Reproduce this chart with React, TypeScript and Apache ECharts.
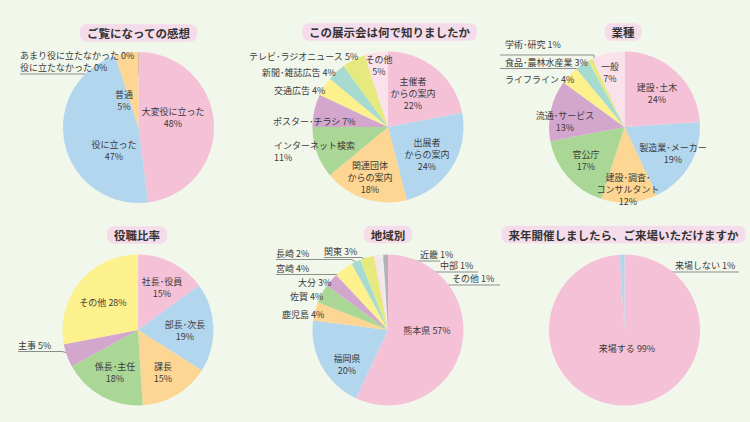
import React, { useEffect, useRef } from 'react';
import * as echarts from 'echarts';

const FONT = '"Noto Sans CJK JP", "Noto Sans", sans-serif';

const titles = [
  'ご覧になっての感想',
  'この展示会は何で知りましたか',
  '業種',
  '役職比率',
  '地域別',
  '来年開催しましたら、ご来場いただけますか',
];

const impressionNames = ['大変役に立った', '役に立った', '普通', 'あまり役に立たなかった', '役に立たなかった'];
const impressionValues = [48, 47, 5, 0, 0];

const sourceNames = ['主催者\nからの案内', '出展者\nからの案内', '関連団体\nからの案内', 'インターネット検索', 'ポスター･チラシ', '交通広告', '新聞･雑誌広告', 'テレビ･ラジオニュース', 'その他'];
const sourceValues = [22, 24, 18, 11, 7, 4, 4, 5, 5];

const industryNames = ['建設･土木', '製造業･メーカー', '建設･調査･\nコンサルタント', '官公庁', '流通･サービス', 'ライフライン', '食品･農林水産業', '学術･研究', '一般'];
const industryValues = [24, 19, 12, 17, 13, 4, 3, 1, 7];

const positionNames = ['社長･役員', '部長･次長', '課長', '係長･主任', '主事', 'その他'];
const positionValues = [15, 19, 15, 18, 5, 28];

const regionNames = ['熊本県', '福岡県', '鹿児島', '佐賀', '大分', '宮崎', '長崎', '関東', '近畿', '中部', 'その他'];
const regionValues = [57, 20, 4, 4, 3, 4, 2, 3, 1, 1, 1];

const nextYearNames = ['来場する', '来場しない'];
const nextYearValues = [99, 1];

// colours
const PINK = '#f5c1d7';
const BLUE = '#b3d6ef';
const PEACH = '#fcd692';
const GREEN = '#aad696';
const PURPLE = '#d3a6cd';
const YELLOW = '#fdf18e';
const TEAL = '#a8dbd0';
const LIME = '#e6ea7e';
const LPINK = '#fae1ea';
const LGRAY = '#ececec';
const GRAY = '#b3b3b3';

type L = { x: number; y: number; a?: string; sep: string; out?: boolean; line?: number[][] };

const layout1: L[] = [
  { x: 173, y: 117, sep: '\n' },
  { x: 114, y: 150, sep: '\n' },
  { x: 124, y: 100, sep: '\n' },
  { x: 20, y: 55, a: 'left', sep: ' ', out: true },
  { x: 20, y: 67, a: 'left', sep: ' ', out: true, line: [[138.5, 53], [138.5, 74], [20, 74]] },
];
const layout2: L[] = [
  { x: 413, y: 93, sep: '\n' },
  { x: 427, y: 154, sep: '\n' },
  { x: 370, y: 177, sep: '\n' },
  { x: 274, y: 151, a: 'left', sep: '\n', out: true },
  { x: 273, y: 121, a: 'left', sep: ' ', out: true },
  { x: 274, y: 90, a: 'left', sep: ' ', out: true },
  { x: 262, y: 72, a: 'left', sep: ' ', out: true },
  { x: 249, y: 56, a: 'left', sep: ' ', out: true },
  { x: 379, y: 65, sep: '\n' },
];
const layout3: L[] = [
  { x: 657, y: 93, sep: '\n' },
  { x: 673, y: 153, sep: '\n' },
  { x: 628, y: 189, sep: '\n' },
  { x: 586, y: 160, sep: '\n' },
  { x: 565, y: 121, sep: '\n' },
  { x: 505, y: 79, a: 'left', sep: ' ', out: true },
  { x: 505, y: 62, a: 'left', sep: ' ', out: true, line: [[589, 69], [580, 68.5], [500, 68.5]] },
  { x: 505, y: 44, a: 'left', sep: ' ', out: true, line: [[594, 66], [594, 55], [500, 55]] },
  { x: 610, y: 72, sep: '\n' },
];
const layout4: L[] = [
  { x: 162, y: 287, sep: '\n' },
  { x: 185, y: 330, sep: '\n' },
  { x: 163, y: 372, sep: '\n' },
  { x: 115, y: 372, sep: '\n' },
  { x: 18, y: 345, a: 'left', sep: ' ', out: true, line: [[68, 353], [62, 351.5], [18, 351.5]] },
  { x: 103, y: 302, sep: ' ' },
];
const layout5: L[] = [
  { x: 427, y: 330, sep: ' ' },
  { x: 347, y: 364, sep: '\n' },
  { x: 282, y: 314, a: 'left', sep: ' ', out: true },
  { x: 290, y: 296, a: 'left', sep: ' ', out: true },
  { x: 298, y: 282, a: 'left', sep: ' ', out: true },
  { x: 276, y: 268, a: 'left', sep: ' ', out: true, line: [[344, 271], [341, 274.5], [276, 274.5]] },
  { x: 276, y: 253, a: 'left', sep: ' ', out: true, line: [[357, 263], [352, 259.5], [276, 259.5]] },
  { x: 324, y: 251, a: 'left', sep: ' ', out: true, line: [[367, 261], [362, 257.5], [324, 257.5]] },
  { x: 420, y: 254, a: 'left', sep: ' ', out: true, line: [[377, 261], [400, 261], [440, 261]] },
  { x: 440, y: 265, a: 'left', sep: ' ', out: true, line: [[383, 258], [383, 272], [478, 272]] },
  { x: 452, y: 278, a: 'left', sep: ' ', out: true, line: [[387, 258], [387, 285], [500, 285]] },
];
const layout6: L[] = [
  { x: 627, y: 348, sep: ' ' },
  { x: 675, y: 265, a: 'left', sep: ' ', out: true, line: [[623, 272], [650, 272], [739, 272]] },
];

const titleSpots = [
  [138.5, 33],
  [389.5, 32],
  [623, 32],
  [137, 235],
  [388, 234.5],
  [623.5, 234.5],
];

function pie(names: string[], values: number[], colors: string[], center: number[], layout: L[]) {
  return {
    type: 'pie',
    radius: 75.5,
    center,
    startAngle: 90,
    clockwise: true,
    avoidLabelOverlap: false,
    silent: true,
    minShowLabelAngle: 0,
    label: {
      show: true,
      position: 'inside',
      color: '#3a3a3a',
      fontSize: 9,
      lineHeight: 12,
      fontFamily: FONT,
      formatter: (p: any) => names[p.dataIndex] + layout[p.dataIndex].sep + values[p.dataIndex] + '%',
    },
    labelLine: { show: false },
    data: names.map((n, i) => {
      const l = layout[i];
      const item: any = { name: n, value: values[i], itemStyle: { color: colors[i] } };
      if (l.out) item.label = { position: 'outside' };
      if (l.line) item.labelLine = { show: true, showAbove: true, lineStyle: { color: '#8d8d8d', width: 1 } };
      return item;
    }),
    labelLayout: (params: any) => {
      const l = layout[params.dataIndex];
      const r: any = { x: l.x, y: l.y, align: l.a || 'center', verticalAlign: 'middle' };
      if (l.line) r.labelLinePoints = l.line;
      return r;
    },
  };
}

export default function App() {
  const ref = useRef<HTMLDivElement>(null);
  useEffect(() => {
    if (!ref.current) return;
    const chart = echarts.init(ref.current, undefined, { renderer: 'svg' });
    const option: any = {
      animation: false,
      backgroundColor: '#f2f7ec',
      graphic: titles.map((t, i) => ({
        type: 'text',
        x: titleSpots[i][0],
        y: titleSpots[i][1],
        silent: true,
        style: {
          text: t,
          fill: '#333333',
          fontSize: 11.5,
          fontWeight: 'bold',
          fontFamily: FONT,
          align: 'center',
          verticalAlign: 'middle',
          backgroundColor: '#f5dcea',
          padding: [3, 7, 3, 7],
          borderRadius: 7,
        },
      })),
      series: [
        pie(impressionNames, impressionValues, [PINK, BLUE, PEACH, PEACH, PEACH], [138.5, 127.5], layout1),
        pie(sourceNames, sourceValues, [PINK, BLUE, PEACH, GREEN, PURPLE, YELLOW, TEAL, LIME, LPINK], [388, 127], layout2),
        pie(industryNames, industryValues, [PINK, BLUE, PEACH, GREEN, PURPLE, YELLOW, TEAL, LIME, LPINK], [624.5, 127], layout3),
        pie(positionNames, positionValues, [PINK, BLUE, PEACH, GREEN, PURPLE, YELLOW], [138, 330], layout4),
        pie(regionNames, regionValues, [PINK, BLUE, PEACH, GREEN, PURPLE, YELLOW, TEAL, LIME, LPINK, LGRAY, GRAY], [388, 330], layout5),
        pie(nextYearNames, nextYearValues, [PINK, BLUE], [624.5, 330], layout6),
      ],
    };
    chart.setOption(option);
    return () => chart.dispose();
  }, []);
  return <div ref={ref} style={{ position: 'fixed', left: 0, top: 0, width: 750, height: 422 }} />;
}
